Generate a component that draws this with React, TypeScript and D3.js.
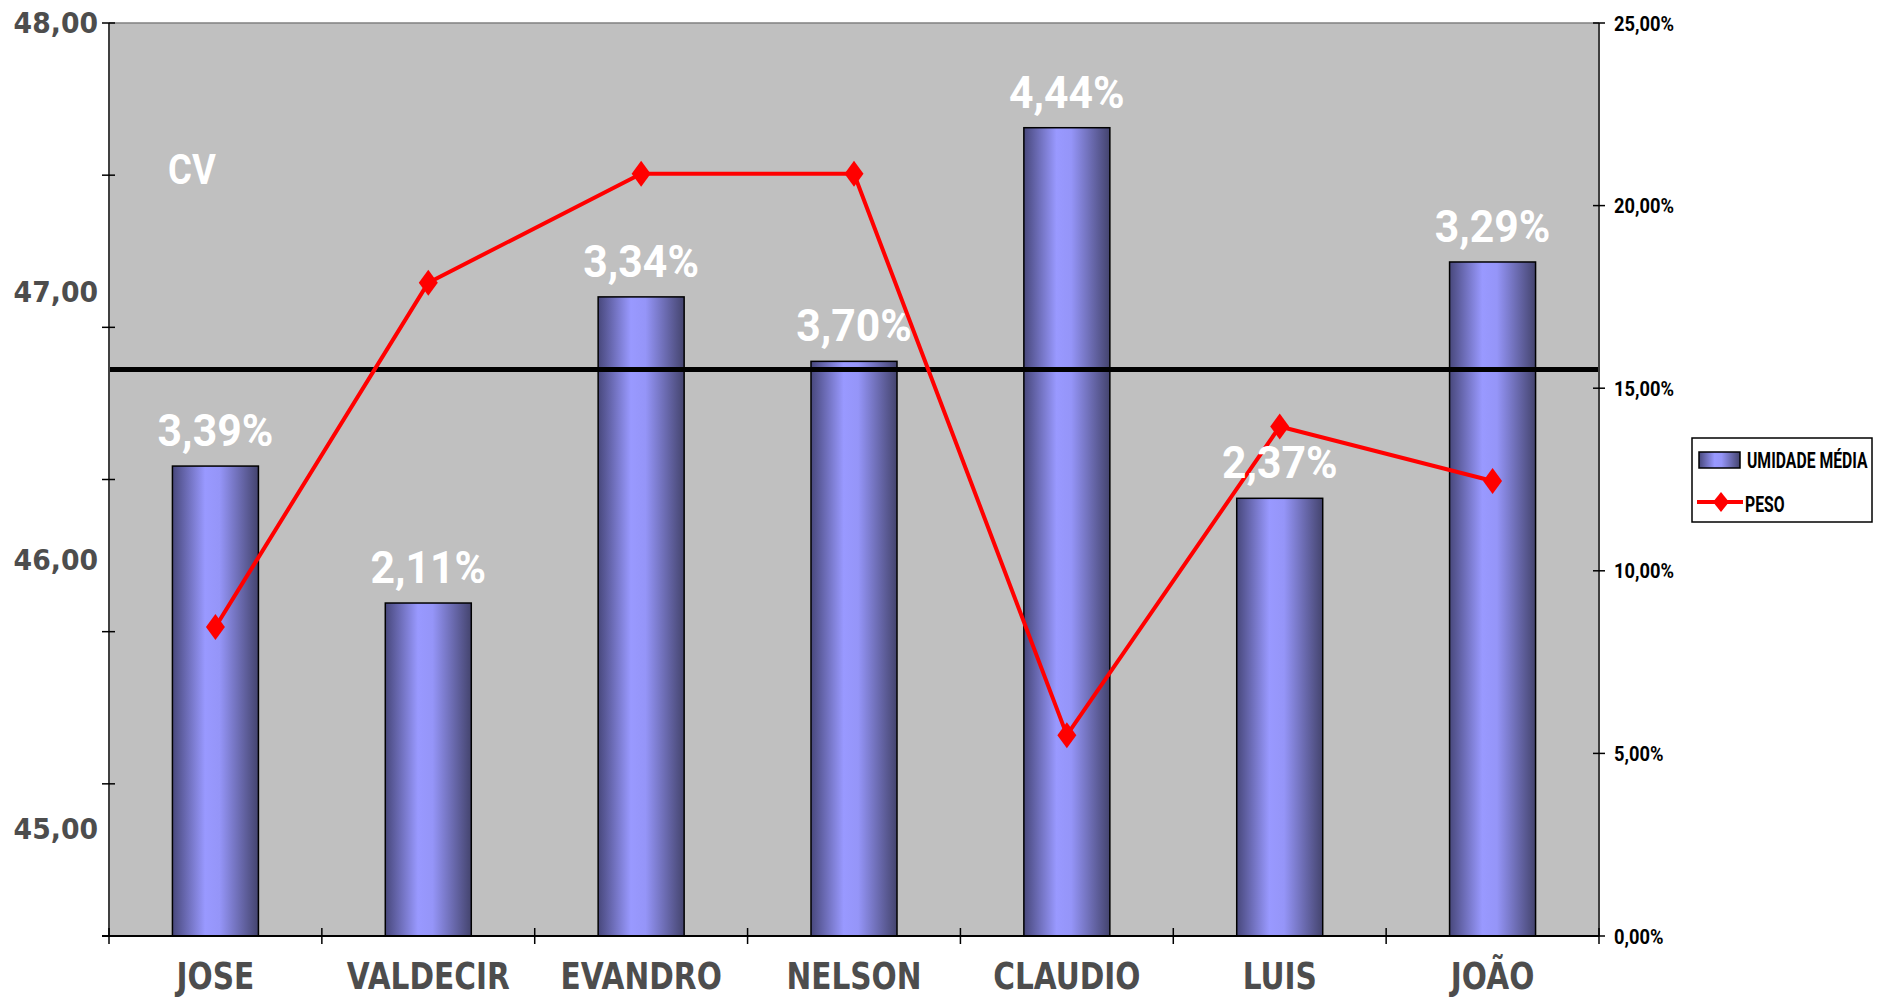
import React from "react";
import * as d3 from "d3";

// Humidity (left axis) and weight share (right axis) per supplier
const CATEGORIES = ["JOSE", "VALDECIR", "EVANDRO", "NELSON", "CLAUDIO", "LUIS", "JOÃO"];
const UMIDADE = [46.35, 45.84, 46.98, 46.74, 47.61, 46.23, 47.11];
const PESO = [8.46, 17.89, 20.87, 20.87, 5.5, 13.95, 12.46];
const CV_LABELS = ["3,39%", "2,11%", "3,34%", "3,70%", "4,44%", "2,37%", "3,29%"];
const LEFT_LABEL_VALUES = [45, 46, 47, 48];
const RIGHT_TICKS = [0, 5, 10, 15, 20, 25];
const MEDIA_GERAL = 46.71;
const LEFT_DOMAIN = [44.6, 48];
const RIGHT_DOMAIN = [0, 25];

const W = 1883;
const H = 998;
const PLOT = { left: 109, top: 23, right: 1599, bottom: 936 };

const ptBR = d3.formatLocale({ decimal: ",", thousands: ".", grouping: [3], currency: ["R$", ""] });
const fmt2 = ptBR.format(".2f");

const AXIS_FONT = "'DejaVu Sans', Verdana, sans-serif";
const COND_FONT = "Roboto, 'Liberation Sans', sans-serif";

function diamond(hw: number, hh: number) {
  return `M0,${-hh}L${hw},0L0,${hh}L${-hw},0Z`;
}

function SText({ x, y, sx = 1, children, ...rest }: any) {
  return (
    <text transform={`translate(${x},${y}) scale(${sx},1)`} {...rest}>
      {children}
    </text>
  );
}

export default function App() {
  const x = d3
    .scaleBand<string>()
    .domain(CATEGORIES)
    .range([PLOT.left, PLOT.right])
    .paddingInner(0.596)
    .paddingOuter(0.298);
  const bw = x.bandwidth();
  const step = x.step();
  const cx = (c: string) => (x(c) as number) + bw / 2;

  const yL = d3.scaleLinear().domain(LEFT_DOMAIN).range([PLOT.bottom, PLOT.top]);
  const yR = d3.scaleLinear().domain(RIGHT_DOMAIN).range([PLOT.bottom, PLOT.top]);

  const leftTicks = d3.range(7).map((i) => LEFT_DOMAIN[1] - (i * (LEFT_DOMAIN[1] - LEFT_DOMAIN[0])) / 6);
  const catTicks = d3.range(CATEGORIES.length + 1).map((i) => PLOT.left + i * step);

  const pesoLine = d3
    .line<number>()
    .x((_, i) => cx(CATEGORIES[i]))
    .y((d) => yR(d));

  return (
    <>
      <style>{`body{margin:0;overflow:hidden;background:#fff}`}</style>
      <svg width={W} height={H} viewBox={`0 0 ${W} ${H}`} style={{ display: "block" }}>
        <defs>
          <linearGradient id="barGrad" x1="0" x2="1" y1="0" y2="0">
            <stop offset="0" stopColor="#48487c" />
            <stop offset="0.38" stopColor="#9999ff" />
            <stop offset="0.55" stopColor="#9595f8" />
            <stop offset="1" stopColor="#44446e" />
          </linearGradient>
        </defs>
        <rect x={0} y={0} width={W} height={H} fill="#ffffff" />

        {/* plot area */}
        <rect
          x={PLOT.left}
          y={PLOT.top}
          width={PLOT.right - PLOT.left}
          height={PLOT.bottom - PLOT.top}
          fill="#c0c0c0"
        />
        <line x1={PLOT.left} x2={PLOT.right} y1={PLOT.top} y2={PLOT.top} stroke="#808080" strokeWidth={1.5} />

        {/* bars */}
        {CATEGORIES.map((c, i) => (
          <rect
            key={c}
            x={x(c)}
            y={yL(UMIDADE[i])}
            width={bw}
            height={PLOT.bottom - yL(UMIDADE[i])}
            fill="url(#barGrad)"
            stroke="#000"
            strokeWidth={1.5}
          />
        ))}

        {/* overall average */}
        <line
          x1={PLOT.left}
          x2={PLOT.right}
          y1={yL(MEDIA_GERAL)}
          y2={yL(MEDIA_GERAL)}
          stroke="#000"
          strokeWidth={5}
        />

        {/* left axis */}
        <line x1={PLOT.left} x2={PLOT.left} y1={PLOT.top} y2={PLOT.bottom} stroke="#404040" strokeWidth={2} />
        {leftTicks.map((t, i) => (
          <line key={i} x1={PLOT.left - 7} x2={PLOT.left + 6} y1={yL(t)} y2={yL(t)} stroke="#000" strokeWidth={1.5} />
        ))}
        {LEFT_LABEL_VALUES.map((v) => (
          <SText
            key={v}
            x={98}
            y={yL(v)}
            sx={0.92}
            dy="0.36em"
            textAnchor="end"
            fontFamily={AXIS_FONT}
            fontWeight="bold"
            fontSize={29}
            fill="#4d4d4d"
          >
            {fmt2(v)}
          </SText>
        ))}

        {/* right axis */}
        <line x1={PLOT.right} x2={PLOT.right} y1={PLOT.top} y2={PLOT.bottom} stroke="#404040" strokeWidth={2} />
        {RIGHT_TICKS.map((t) => (
          <g key={t}>
            <line x1={PLOT.right - 6} x2={PLOT.right + 6} y1={yR(t)} y2={yR(t)} stroke="#000" strokeWidth={1.5} />
            <SText
              x={1614}
              y={yR(t)}
              sx={0.87}
              dy="0.36em"
              textAnchor="start"
              fontFamily={COND_FONT}
              fontWeight="bold"
              fontSize={21}
              fill="#000"
            >
              {fmt2(t) + "%"}
            </SText>
          </g>
        ))}

        {/* category axis */}
        <line x1={PLOT.left - 7} x2={PLOT.right} y1={PLOT.bottom} y2={PLOT.bottom} stroke="#000" strokeWidth={2} />
        {catTicks.map((t, i) => (
          <line key={i} x1={t} x2={t} y1={PLOT.bottom - 8} y2={PLOT.bottom + 8} stroke="#000" strokeWidth={1.5} />
        ))}
        {CATEGORIES.map((c) => (
          <SText
            key={c}
            x={cx(c)}
            y={989}
            sx={0.8}
            textAnchor="middle"
            fontFamily={AXIS_FONT}
            fontWeight="bold"
            fontSize={37}
            fill="#4d4d4d"
          >
            {c}
          </SText>
        ))}

        {/* weight line */}
        <path d={pesoLine(PESO) || ""} fill="none" stroke="#ff0000" strokeWidth={4} strokeLinejoin="round" />
        {PESO.map((p, i) => (
          <path
            key={i}
            d={diamond(9.5, 13)}
            transform={`translate(${cx(CATEGORIES[i])},${yR(p)})`}
            fill="#ff0000"
          />
        ))}

        {/* coefficient of variation labels */}
        <SText
          x={168}
          y={184}
          sx={0.85}
          textAnchor="start"
          fontFamily={COND_FONT}
          fontWeight="bold"
          fontSize={43}
          fill="#fff"
        >
          CV
        </SText>
        {CATEGORIES.map((c, i) => (
          <SText
            key={c}
            x={cx(c)}
            y={yL(UMIDADE[i]) - 20}
            sx={0.95}
            textAnchor="middle"
            fontFamily={COND_FONT}
            fontWeight="bold"
            fontSize={45}
            fill="#fff"
          >
            {CV_LABELS[i]}
          </SText>
        ))}

        {/* legend */}
        <rect x={1692} y={438} width={180} height={84} fill="#fff" stroke="#000" strokeWidth={1.5} />
        <rect x={1699} y={452} width={41} height={16} fill="url(#barGrad)" stroke="#000" strokeWidth={1.5} />
        <SText
          x={1747}
          y={468}
          sx={0.7}
          textAnchor="start"
          fontFamily={COND_FONT}
          fontWeight="bold"
          fontSize={22.5}
          fill="#000"
        >
          UMIDADE MÉDIA
        </SText>
        <line x1={1697} x2={1743} y1={502} y2={502} stroke="#ff0000" strokeWidth={4} />
        <path d={diamond(8, 10)} transform="translate(1721,502)" fill="#ff0000" />
        <SText
          x={1745}
          y={512}
          sx={0.7}
          textAnchor="start"
          fontFamily={COND_FONT}
          fontWeight="bold"
          fontSize={22.5}
          fill="#000"
        >
          PESO
        </SText>
      </svg>
    </>
  );
}
